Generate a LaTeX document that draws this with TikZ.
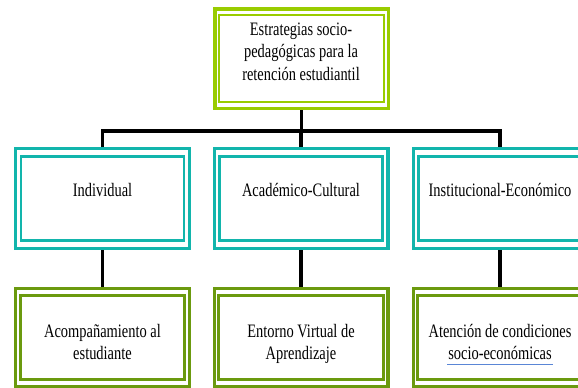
\documentclass[tikz,border=0pt]{standalone}
\usepackage{fontspec}
\setmainfont[FakeStretch=0.76]{Liberation Serif}
\definecolor{limeg}{HTML}{99CC00}
\definecolor{tealb}{HTML}{12B5AC}
\definecolor{oliveg}{HTML}{6B9A0E}
\definecolor{ulblue}{HTML}{5A86D6}
\tikzset{
  dbox/.style n args={5}{rectangle, draw=#1, line width=#2, inner sep=0pt,
    path picture={\draw[#1, line width=#3]
      ([shift={(#4,#5)}]path picture bounding box.north west) rectangle
      ([shift={(-#4,-#5)}]path picture bounding box.south east);}},
  topbox/.style={dbox={limeg}{3.5pt}{2pt}{4.6}{6.6}, minimum width=173.5pt, minimum height=99.5pt},
  midbox/.style={dbox={tealb}{3.3pt}{2.5pt}{5.2}{7.7}, minimum width=173.7pt, minimum height=99.7pt},
  botbox/.style={dbox={oliveg}{3.2pt}{3.2pt}{4.6}{6.7}, minimum width=173.8pt, minimum height=97.8pt},
  txt/.style={font=\fontsize{19}{22.5}\selectfont, align=center, inner sep=0pt},
  conn/.style={draw=black, line width=3.3pt, line join=miter},
  spell/.style={draw=ulblue, line width=1.1pt}
}
\begin{document}
\begin{tikzpicture}[x=1pt,y=-1pt]
\useasboundingbox (0,0) rectangle (578,388);
\clip (0,0) rectangle (578,388);
% boxes
\node[topbox] (top) at (301.5,58.5) {};
\node[midbox] (m1) at (102.5,198.5) {};
\node[midbox] (m2) at (301,198.5) {};
\node[midbox] (m3) at (500,198.5) {};
\node[botbox] (b1) at (102.5,337.5) {};
\node[botbox] (b2) at (301,337.5) {};
\node[botbox] (b3) at (500,337.5) {};
% texts
\node[txt] (ttop) at (301,53) {\strut Estrategias socio-\\\strut pedagógicas para la\\\strut retención estudiantil};
\node[txt] (tm1) at (102.5,191.5) {\strut Individual};
\node[txt] (tm2) at (301,191.5) {\strut Académico-Cultural};
\node[txt] (tm3) at (500,191.5) {\strut Institucional-Económico};
\node[txt] (tb1) at (102.5,343.75) {\strut Acompañamiento al\\\strut estudiante};
\node[txt] (tb2) at (301,343.75) {\strut Entorno Virtual de\\\strut Aprendizaje};
\node[txt] (tb3) at (500,343.75) {\strut Atención de condiciones\\\strut socio-económicas};
\draw[spell] ([shift={(-53,-2.25)}]tb3.south) -- ([shift={(53,-2.25)}]tb3.south);
% connectors
\coordinate (bus) at (300,131);
\draw[conn] (top.south) -- (top.south |- bus);
\draw[conn] (m1.north) |- (bus) -| (m3.north);
\draw[conn] (m2.north) -- (m2.north |- bus);
\draw[conn] (m1.south) -- (b1.north);
\draw[conn] (m2.south) -- (b2.north);
\draw[conn] (m3.south) -- (b3.north);
\end{tikzpicture}
\end{document}
